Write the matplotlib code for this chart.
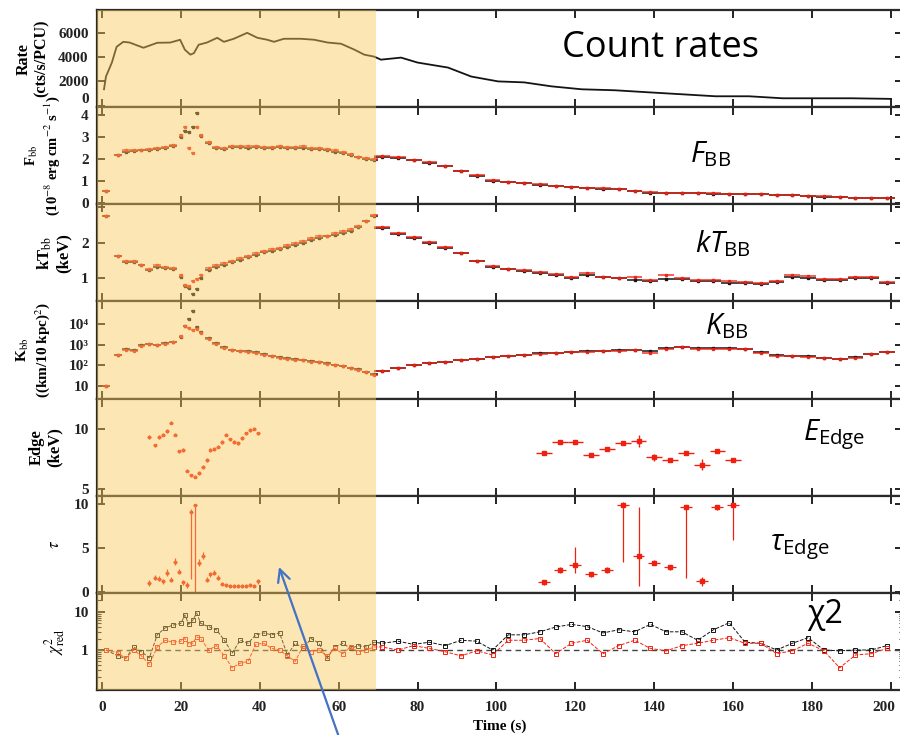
import matplotlib.pyplot as plt
import matplotlib.patches as mpatches
import matplotlib.transforms as mtransforms
from matplotlib.ticker import FixedLocator, FixedFormatter, NullFormatter, LogLocator

plt.rcParams['font.family'] = ['Liberation Serif', 'DejaVu Serif']
plt.rcParams['mathtext.fontset'] = 'custom'
plt.rcParams['mathtext.rm'] = 'Open Sans'
plt.rcParams['mathtext.it'] = 'Open Sans:italic'
plt.rcParams['mathtext.bf'] = 'Open Sans:bold'

# ---- count rate (cts/s/PCU)
t_rate = [0.5, 1, 2.5, 3.7, 5.4, 7, 10.5, 14, 17.3, 19.8, 21, 22.4, 23.3, 24.5, 26.6,
          29.2, 30.9, 33.4, 36.8, 39.4, 41.9, 43.6, 46.1, 50.4, 53.8, 57.2, 60.6, 64,
          66.5, 69, 70.7, 75.8, 80, 87.7, 93.6, 100.4, 107, 114, 121.6, 130, 138.6,
          147, 155.5, 164, 172.5, 181, 190, 200]
rate = [1350, 2400, 3550, 4850, 5260, 5200, 4770, 5180, 5200, 5430, 4610, 4200, 4330,
        5020, 5200, 5590, 5260, 5510, 6000, 5590, 5430, 5260, 5510, 5510, 5430, 5200,
        5100, 4610, 4200, 4040, 3790, 3960, 3550, 3140, 2400, 2000, 1920, 1590, 1350,
        1270, 1100, 940, 775, 775, 610, 610, 610, 560]

# ---- time-resolved spectral fits (bin centres, s)
t_left = [1, 4, 6, 8, 10, 12, 14, 16, 18, 20, 21, 22, 23, 24, 25, 27, 29, 31, 33, 35,
          37, 39, 41, 43, 45, 47, 49, 51, 53, 55, 57, 59, 61, 63, 65, 67, 69]
t_right = [71, 75, 79, 83, 87, 91, 95, 99, 103, 107, 111, 115, 119, 123, 127, 131, 135,
           139, 143, 147, 151, 155, 159, 163, 167, 171, 175, 179, 183, 187, 191, 195, 199]
t_spec = t_left + t_right
t_halfbin = [1.0] * 9 + [0.5] * 6 + [1.0] * 22 + [2.0] * 33

fbb_black = [0.56, 2.2, 2.35, 2.38, 2.4, 2.4, 2.48, 2.5, 2.6, 3.0, 3.3, 3.25, 3.45, 4.1,
             3.05, 2.75, 2.5, 2.45, 2.55, 2.55, 2.5, 2.55, 2.52, 2.5, 2.55, 2.52, 2.5,
             2.52, 2.48, 2.45, 2.4, 2.35, 2.28, 2.2, 2.08, 2.02, 1.98,
             2.1, 2.05, 1.95, 1.85, 1.68, 1.45, 1.25, 1.02, 0.95, 0.9, 0.85, 0.78, 0.72,
             0.68, 0.66, 0.63, 0.55, 0.48, 0.47, 0.47, 0.46, 0.44, 0.42, 0.41, 0.4, 0.38,
             0.36, 0.33, 0.3, 0.26, 0.24, 0.23, 0.23]
fbb_red = [0.56, 2.2, 2.4, 2.42, 2.42, 2.45, 2.5, 2.55, 2.65, 3.1, 3.45, 2.5, 2.3, 3.45,
           3.1, 2.8, 2.55, 2.5, 2.6, 2.6, 2.58, 2.6, 2.57, 2.55, 2.6, 2.57, 2.55, 2.58,
           2.53, 2.5, 2.45, 2.42, 2.35, 2.25, 2.12, 2.05, 2.0,
           2.15, 2.08, 1.98, 1.88, 1.7, 1.48, 1.27, 1.05, 0.97, 0.92, 0.86, 0.8, 0.73,
           0.7, 0.67, 0.64, 0.56, 0.5, 0.48, 0.48, 0.47, 0.45, 0.43, 0.42, 0.41, 0.39,
           0.37, 0.34, 0.31, 0.27, 0.25, 0.24, 0.24]

ktbb_black = [2.75, 1.62, 1.45, 1.46, 1.36, 1.22, 1.33, 1.3, 1.25, 1.05, 0.78, 0.72, 0.55,
              0.69, 1.0, 1.22, 1.32, 1.38, 1.46, 1.52, 1.6, 1.66, 1.73, 1.78, 1.82, 1.88,
              1.94, 2.0, 2.08, 2.14, 2.18, 2.23, 2.28, 2.34, 2.44, 2.6, 2.75,
              2.4, 2.25, 2.12, 2.0, 1.86, 1.7, 1.48, 1.33, 1.25, 1.2, 1.16, 1.08, 1.02,
              1.08, 1.03, 1.0, 0.96, 0.92, 0.98, 0.97, 0.92, 0.92, 0.88, 0.87, 0.84, 0.9,
              1.04, 1.02, 0.94, 0.96, 1.0, 1.01, 0.88]
ktbb_red = [2.75, 1.62, 1.48, 1.5, 1.38, 1.25, 1.36, 1.33, 1.28, 1.1, 0.8, 0.78, 0.92,
            0.98, 1.1, 1.28, 1.38, 1.43, 1.5, 1.56, 1.64, 1.7, 1.78, 1.83, 1.86, 1.93,
            1.98, 2.05, 2.12, 2.18, 2.2, 2.26, 2.32, 2.38, 2.48, 2.62, 2.78,
            2.45, 2.28, 2.15, 2.02, 1.88, 1.72, 1.5, 1.35, 1.26, 1.22, 1.18, 1.12, 1.05,
            1.15, 1.05, 1.02, 1.05, 0.95, 1.08, 1.0, 0.95, 0.95, 0.92, 0.9, 0.88, 0.93,
            1.08, 1.06, 0.98, 0.99, 1.03, 1.03, 0.9]

kbb_black = [10, 320, 600, 560, 930, 1100, 960, 1150, 1350, 2300, 8000, 17000, 40000,
             7100, 4000, 2000, 1150, 760, 580, 520, 470, 420, 340, 300, 250, 220, 200,
             185, 165, 155, 130, 110, 95, 80, 66, 50, 38,
             54, 76, 108, 130, 150, 180, 205, 255, 290, 325, 380, 410, 460, 470, 520,
             540, 550, 470, 660, 790, 680, 660, 660, 620, 420, 330, 300, 270, 240, 210,
             250, 370, 460]
kbb_red = [10, 320, 580, 520, 900, 1050, 920, 1100, 1300, 2500, 7900, 6000, 5000, 5900,
           3600, 1800, 1050, 700, 540, 490, 440, 390, 320, 280, 235, 205, 190, 175, 155,
           145, 122, 104, 90, 76, 62, 48, 36,
           52, 74, 104, 126, 146, 175, 200, 250, 285, 320, 370, 400, 450, 460, 500, 520,
           530, 380, 640, 760, 600, 640, 640, 600, 400, 300, 280, 250, 230, 200, 240,
           350, 440]

chi_black = [1.0, 0.7, 0.6, 1.2, 0.9, 0.62, 2.5, 3.8, 4.5, 5.0, 8.3, 4.7, 6.0, 9.4, 5.0,
             4.1, 3.4, 1.8, 0.83, 1.8, 1.5, 2.5, 2.8, 2.5, 2.8, 0.74, 1.5, 1.1, 2.0, 1.5,
             0.6, 1.2, 1.5, 1.1, 1.3, 1.2, 1.6,
             1.5, 1.7, 1.4, 1.6, 1.3, 1.8, 1.7, 1.0, 2.5, 2.5, 3.0, 4.0, 4.7, 4.1, 2.8,
             3.4, 3.0, 4.7, 3.0, 3.0, 1.8, 3.4, 5.2, 1.6, 1.5, 1.0, 1.5, 2.1, 1.0, 0.95,
             1.0, 1.0, 1.3]
chi_red = [1.0, 0.85, 0.6, 1.0, 0.7, 0.42, 1.2, 1.8, 1.6, 1.7, 2.0, 1.4, 1.5, 2.2, 2.0,
           1.0, 1.3, 0.7, 0.34, 0.45, 0.5, 1.4, 1.5, 1.1, 1.0, 0.7, 0.5, 1.3, 0.9, 1.0,
           0.7, 1.1, 0.8, 1.2, 0.9, 1.0, 1.2,
           1.2, 1.0, 1.3, 1.1, 0.9, 0.7, 0.95, 0.74, 1.8, 1.8, 2.0, 0.8, 1.5, 1.8, 0.8,
           1.3, 1.8, 1.1, 0.95, 1.3, 1.5, 1.8, 2.1, 1.5, 1.5, 0.8, 0.95, 1.5, 0.95, 0.34,
           0.74, 0.8, 1.1]

# ---- absorption edge (only where required)
t_edge_l = [12, 13.5, 14.5, 15.5, 16.5, 17.5, 18.5, 19.5, 20.5, 21.5, 22.5, 23.5, 24.5,
            25.5, 26.5, 27.5, 28.5, 29.5, 30.5, 31.5, 32.5, 33.5, 34.5, 35.5, 36.5, 37.5,
            38.5, 39.5]
e_edge_l = [9.3, 8.6, 9.3, 9.5, 9.8, 10.5, 9.5, 8.1, 8.2, 6.5, 6.1, 6.0, 6.3, 6.8, 7.4,
            8.2, 8.3, 8.5, 8.9, 9.5, 9.1, 8.9, 8.8, 9.2, 9.6, 9.9, 10.0, 9.6]
tau_l = [1.0, 1.6, 1.5, 1.2, 2.2, 1.4, 3.4, 2.3, 1.1, 0.8, 9.0, 9.9, 3.3, 4.1, 1.4, 2.0,
         2.2, 1.6, 0.9, 0.8, 0.7, 0.7, 0.7, 0.7, 0.7, 0.8, 0.7, 1.2]
tau_l_lo = [0.3, 0.3, 0.3, 0.3, 0.4, 0.3, 0.4, 0.3, 0.3, 0.3, 7.5, 9.9, 0.4, 0.4, 0.3,
            0.3, 0.3, 0.3, 0.2, 0.2, 0.2, 0.2, 0.2, 0.2, 0.2, 0.2, 0.2, 0.3]
tau_l_hi = [0.3, 0.3, 0.3, 0.3, 0.4, 0.3, 0.4, 0.3, 0.3, 0.3, 0.4, 0.1, 0.4, 0.4, 0.3,
            0.3, 0.3, 0.3, 0.2, 0.2, 0.2, 0.2, 0.2, 0.2, 0.2, 0.2, 0.2, 0.3]

t_edge_r = [112, 116, 120, 124, 128, 132, 136, 140, 144, 148, 152, 156, 160]
e_edge_r = [8.0, 8.9, 8.9, 7.8, 8.3, 8.8, 9.0, 7.6, 7.4, 8.0, 7.0, 8.1, 7.4]
e_edge_r_err = [0.15, 0.15, 0.15, 0.15, 0.15, 0.15, 0.5, 0.3, 0.15, 0.15, 0.45, 0.15, 0.15]
tau_r = [1.1, 2.5, 3.1, 2.0, 2.5, 9.9, 4.1, 3.3, 2.8, 9.6, 1.2, 9.6, 9.9]
tau_r_lo = [0.3, 0.3, 0.9, 0.3, 0.3, 6.5, 3.4, 0.3, 0.3, 8.0, 0.5, 0.3, 4.0]
tau_r_hi = [0.3, 0.3, 2.0, 0.3, 0.3, 0.3, 5.5, 0.3, 0.3, 0.3, 0.5, 0.3, 0.3]

BLACK = '#141414'
RED = '#F02010'
W, H = 900, 735


def px(x, y):
    return x / W, 1 - y / H


fig, axs = plt.subplots(7, 1, figsize=(9, 7.35), dpi=100, sharex=True)
ax_left, ax_right, ax_top, ax_bot = 97 / W, 1.003, 1 - 10 / H, 1 - 690 / H
fig.subplots_adjust(left=ax_left, right=ax_right, top=ax_top, bottom=ax_bot, hspace=0)

# count rates
axs[0].plot(t_rate, rate, c=BLACK, lw=1.3)


def spec_panel(ax, black, red):
    ax.errorbar(t_spec, black, xerr=t_halfbin, fmt='s', ms=2, c=BLACK,
                elinewidth=1.1, capsize=0)
    ax.errorbar(t_spec, red, xerr=t_halfbin, fmt='s', ms=2, c=RED, alpha=0.9,
                elinewidth=1.1, capsize=0)


spec_panel(axs[1], fbb_black, fbb_red)
spec_panel(axs[2], ktbb_black, ktbb_red)
spec_panel(axs[3], kbb_black, kbb_red)
axs[3].set_yscale('log')

# edge energy
axs[4].errorbar(t_edge_l, e_edge_l, xerr=0.5, yerr=0.15, fmt='s', ms=2, c=RED,
                elinewidth=1.0, capsize=0)
axs[4].errorbar(t_edge_r, e_edge_r, xerr=2, yerr=e_edge_r_err, fmt='s', ms=2.5, c=RED,
                elinewidth=1.0, capsize=0)

# edge depth
axs[5].errorbar(t_edge_l, tau_l, xerr=0.5, yerr=[tau_l_lo, tau_l_hi], fmt='s', ms=2,
                c=RED, elinewidth=0.9, capsize=0)
axs[5].errorbar(t_edge_r, tau_r, xerr=1.5, yerr=[tau_r_lo, tau_r_hi], fmt='s', ms=2.5,
                c=RED, elinewidth=0.9, capsize=0)

# reduced chi2
axs[6].axhline(1, c='#444', ls='--', lw=1.0, dashes=(4, 3))
axs[6].plot(t_spec, chi_black, c=BLACK, ls='--', lw=0.7, marker='s', ms=2.2,
            mfc='none', mew=0.7)
axs[6].plot(t_spec, chi_red, c=RED, ls='--', lw=0.7, marker='s', ms=2.2,
            mfc='none', mew=0.7)
axs[6].set_yscale('log')

# axes styling
ylims = [(-120, 7880), (-0.05, 4.37), (0.35, 3.08), (2.6, 1.17e5), (4.4, 12.5),
         (-0.1, 10.9), (0.089, 31.6)]
yticks = [[0, 2000, 4000, 6000], [0, 1, 2, 3, 4], [1, 2, 3], [10, 100, 1000, 10000],
          [5, 10], [0, 5, 10], [1, 10]]
yticklabels = [['0', '2000', '4000', '6000'], ['0', '1', '2', '3', '4'], ['1', '2', ''],
               ['10', '10²', '10³', '10⁴'], ['5', '10'], ['0', '5', '10'], ['1', '10']]
ylabels = ['Rate\n(cts/s/PCU)',
           r'F$_{\rm bb}$' + '\n' + r'(10$^{-8}$ erg cm$^{-2}$ s$^{-1}$)',
           r'kT$_{\rm bb}$' + '\n(keV)',
           r'K$_{\rm bb}$' + '\n' + r'((km/10 kpc)$^2$)',
           'Edge\n(keV)',
           r'$\tau$',
           r'$\chi^2_{\rm red}$']
label_right_px = [50, 62, 72, 52, 63, 63, 67]
label_size = [11.5, 10.5, 12, 11, 12, 12, 12]
axw_px = (ax_right - ax_left) * W

for i, ax in enumerate(axs):
    ax.set_ylim(*ylims[i])
    ax.yaxis.set_major_locator(FixedLocator(yticks[i]))
    ax.yaxis.set_major_formatter(FixedFormatter(yticklabels[i]))
    if ax.get_yscale() == 'log':
        ax.yaxis.set_minor_locator(LogLocator(base=10, subs=range(2, 10)))
        ax.yaxis.set_minor_formatter(NullFormatter())
    ax.tick_params(which='both', direction='in', top=True, right=True,
                   labelsize=11, pad=6, colors='#222')
    ax.tick_params(which='major', length=6, width=1.4)
    ax.tick_params(which='minor', length=3, width=0.8)
    for lab in ax.get_yticklabels():
        lab.set_fontweight('bold')
    for s in ax.spines.values():
        s.set_linewidth(1.6)
        s.set_color('#2a2a2a')
    ax.set_ylabel(ylabels[i], fontsize=label_size[i], fontweight='bold',
                  linespacing=1.15, math_fontfamily='stix')
    ax.yaxis.set_label_coords((label_right_px[i] - 97) / axw_px, 0.5)

# lift the rate panel's "0" off the boundary, as in the original
axs[0].get_yticklabels()[0].set_va('bottom')

axs[-1].set_xlim(-1.27, 202.97)
axs[-1].xaxis.set_major_locator(FixedLocator(range(0, 201, 20)))
axs[-1].tick_params(axis='x', pad=8)
xlabs = axs[-1].get_xticklabels()
for lab in xlabs:
    lab.set_fontweight('bold')
xlabs[-1].set_transform(xlabs[-1].get_transform() +
                        mtransforms.ScaledTranslation(-5 / 72, 0, fig.dpi_scale_trans))
axs[-1].set_xlabel('Time (s)', fontsize=11, fontweight='bold', labelpad=4)

# shaded interval overlay
trans = mtransforms.blended_transform_factory(axs[-1].transData, fig.transFigure)
x0 = -1.27
shade = mpatches.Rectangle((x0, ax_bot), 69.5 - x0, ax_top - ax_bot, transform=trans,
                           facecolor='#FAC85A', alpha=0.45, lw=0, zorder=20)
fig.add_artist(shade)

# slide annotations
ann = dict(family='Open Sans', color='black', va='baseline', ha='left')
fig.text(*px(562, 57), 'Count rates', fontsize=26, **ann)
fig.text(*px(690, 162), r'$F_{\mathrm{BB}}$', fontsize=21, **ann)
fig.text(*px(695, 252), r'$kT_{\mathrm{BB}}$', fontsize=21, **ann)
fig.text(*px(705, 334), r'$K_{\mathrm{BB}}$', fontsize=21, **ann)
fig.text(*px(803, 440), r'$E_{\mathrm{Edge}}$', fontsize=21, **ann)
fig.text(*px(770, 550), r'$\tau_{\mathrm{Edge}}$', fontsize=21, **ann)
fig.text(*px(807, 623), 'χ2', fontsize=23, **ann)

arrow = mpatches.FancyArrowPatch(px(340, 740), px(279, 567), transform=fig.transFigure,
                                 arrowstyle='->', mutation_scale=22, lw=1.6,
                                 color='#4472C4', shrinkA=0, shrinkB=0, zorder=30)
fig.add_artist(arrow)

fig.savefig('out.png', dpi=100)
